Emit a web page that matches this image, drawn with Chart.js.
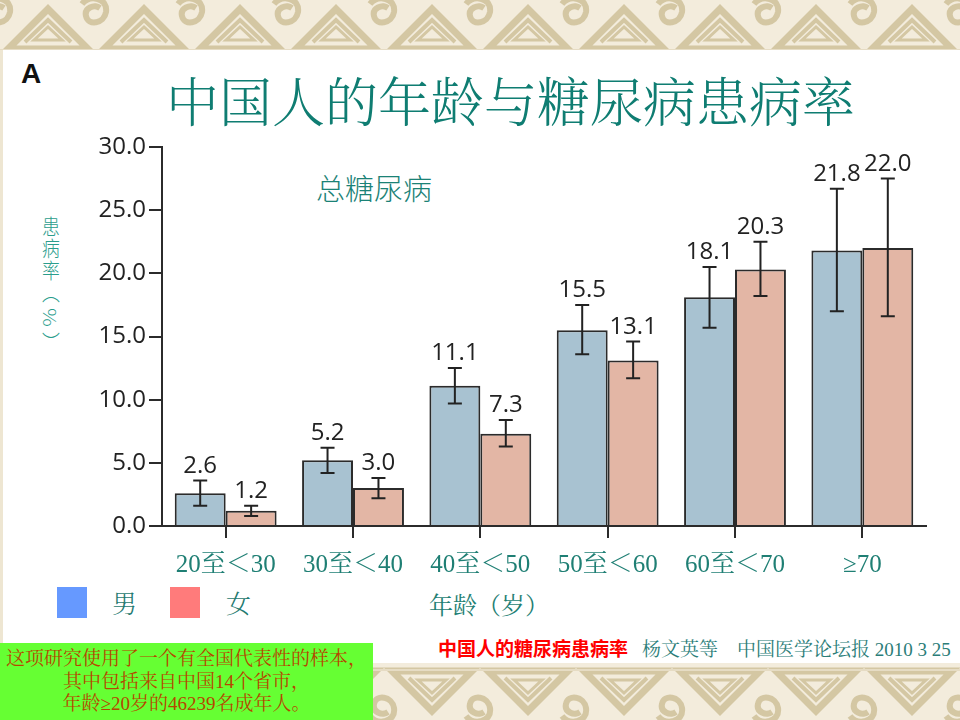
<!DOCTYPE html>
<html>
<head>
<meta charset="utf-8">
<script src="https://cdn.jsdelivr.net/npm/chart.js@4.4.1/dist/chart.umd.min.js"></script>
<style>
  html, body { margin: 0; padding: 0; }
  body { width: 960px; height: 720px; position: relative; overflow: hidden; background: #fff; }
  .band { position: absolute; left: 0; width: 960px; background-repeat: repeat-x; }
  #topBand { top: 0; height: 50px; }
  #bottomBand { top: 663px; height: 57px; }
  #leftStrip { position: absolute; left: 0; top: 50px; width: 3px; height: 613px; background: #eee6d2; }
  #chart { position: absolute; left: 0; top: 0; }
  .txt { position: absolute; white-space: nowrap; }
  .serif { font-family: "Liberation Serif", "Noto Serif CJK SC", "Noto Sans CJK SC", serif; }
  .cjk { font-family: "Noto Serif CJK SC", "Noto Sans CJK SC", sans-serif; }
  #letterA { left: 21px; top: 58px; font: bold 28px "Liberation Sans", Arial, sans-serif; color: #111; }
  #title { left: 166px; top: 73px; font-size: 53px; line-height: 53px; font-weight: 300; color: #0f7d72; }
  #subTitle { left: 316px; top: 171px; font-size: 29px; line-height: 32px; font-weight: 300; color: #1b8276; }
  #yLabel { left: 40px; top: 216px; writing-mode: vertical-rl; font-size: 21px; line-height: 21px; color: #2a9d8c;
            font-family: "Noto Sans CJK SC", sans-serif; font-weight: 300; letter-spacing: 1px;
            transform: scaleX(0.85); transform-origin: center top; }
  #yLabel span { font-size: 21px; letter-spacing: 5px; }
  .swatch { position: absolute; top: 587px; width: 30px; height: 31px; }
  .legendTxt { top: 588px; font-size: 25px; line-height: 28px; color: #1f7a70; font-weight: 300; }
  #xTitle { left: 429px; top: 592px; font-size: 24px; line-height: 28px; color: #1f7f74; }
  #source { left: 438px; top: 637px; font-size: 19px; line-height: 22px; color: #2b7d78; }
  #source b { color: #ff0000; font-family: "Noto Sans CJK SC", sans-serif; font-weight: bold; margin-right: 14px; }
  #note { position: absolute; left: 0; top: 643px; width: 373px; height: 77px; background: #66ff33;
          color: #b54700; font-size: 19px; line-height: 22.5px; text-align: center; padding-top: 5px; box-sizing: border-box; }
</style>
</head>
<body>
<div id="topBand" class="band"></div>
<div id="bottomBand" class="band"></div>
<div id="leftStrip"></div>

<div id="letterA" class="txt">A</div>
<div id="title" class="txt cjk">中国人的年龄与糖尿病患病率</div>
<div id="subTitle" class="txt" style="font-family:'Noto Sans CJK SC',sans-serif;">总糖尿病</div>
<div id="yLabel" class="txt">患病率<span>（%）</span></div>

<div class="swatch" style="left:57px;background:#6699ff;"></div>
<div class="txt legendTxt cjk" style="left:112px;">男</div>
<div class="swatch" style="left:170px;background:#ff7b7b;"></div>
<div class="txt legendTxt cjk" style="left:226px;">女</div>
<div id="xTitle" class="txt serif">年龄（岁）</div>

<div id="source" class="txt serif"><b>中国人的糖尿病患病率</b>杨文英等&nbsp;&nbsp;&nbsp;&nbsp;中国医学论坛报&nbsp;2010 3 25</div>
<div id="note" class="serif">这项研究使用了一个有全国代表性的样本，<br>其中包括来自中国14个省市，<br>年龄≥20岁的46239名成年人。</div>

<canvas id="chart" width="960" height="720"></canvas>

<script>
// 年龄组与患病率（%）
const ageGroups = ["20至＜30", "30至＜40", "40至＜50", "50至＜60", "60至＜70", "≥70"];
const maleRates = [2.6, 5.2, 11.1, 15.5, 18.1, 21.8];
const femaleRates = [1.2, 3.0, 7.3, 13.1, 20.3, 22.0];
// 95% 置信区间
const maleLow = [1.6, 4.2, 9.7, 13.6, 15.7, 17.0];
const maleHigh = [3.6, 6.2, 12.5, 17.5, 20.5, 26.7];
const femaleLow = [0.8, 2.2, 6.3, 11.7, 18.2, 16.6];
const femaleHigh = [1.6, 3.8, 8.4, 14.6, 22.5, 27.5];
const yTicks = [0, 5, 10, 15, 20, 25, 30];

// 边框花纹
function bandSvg(flip) {
  const g =
    "<rect width='96' height='60' fill='#f3ecdc'/>" +
    "<g fill='none' stroke='#d4c7a3' stroke-linejoin='miter'>" +
    "<path d='M8 49 L48 9 L88 49 Z' stroke-width='7'/>" +
    "<path d='M25 42 L48 20 L71 42' stroke-width='4'/>" +
    "<path d='M34 40 L48 27 L62 40 Z' stroke-width='3'/>" +
    "<path d='M-14 4 C-6 -6 12 -2 10 12 C8 24 -8 26 -10 16 C-12 8 -2 4 4 8' stroke-width='6'/>" +
    "<path d='M82 4 C90 -6 108 -2 106 12 C104 24 88 26 86 16 C84 8 94 4 100 8' stroke-width='6'/>" +
    "</g>" +
    "<rect y='49' width='96' height='2' fill='#e6dcc4'/>";
  const body = flip ? "<g transform='translate(0 57) scale(1 -1)'>" + g + "</g>" : g;
  const svg = "<svg xmlns='http://www.w3.org/2000/svg' width='96' height='" + (flip ? 57 : 50) + "'>" + body + "</svg>";
  return 'url("data:image/svg+xml,' + encodeURIComponent(svg) + '")';
}
document.getElementById("topBand").style.backgroundImage = bandSvg(false);
document.getElementById("bottomBand").style.backgroundImage = bandSvg(true);

const axisColor = "#2b2b2b";

// 误差线和数值标签
const errorBarPlugin = {
  id: "errorBars",
  afterDatasetsDraw(chart) {
    const ctx = chart.ctx;
    const yScale = chart.scales.y;
    const ranges = [[maleLow, maleHigh], [femaleLow, femaleHigh]];
    ctx.save();
    ctx.strokeStyle = "#222";
    ctx.lineWidth = 2;
    ctx.fillStyle = "#222";
    ctx.font = "24px 'Open Sans', sans-serif";
    ctx.textAlign = "center";
    ctx.textBaseline = "alphabetic";
    chart.data.datasets.forEach(function (ds, i) {
      const meta = chart.getDatasetMeta(i);
      meta.data.forEach(function (bar, j) {
        const top = yScale.getPixelForValue(ranges[i][1][j]);
        const bottom = yScale.getPixelForValue(ranges[i][0][j]);
        const x = bar.x;
        ctx.beginPath();
        ctx.moveTo(x, top);
        ctx.lineTo(x, bottom);
        ctx.moveTo(x - 7, top);
        ctx.lineTo(x + 7, top);
        ctx.moveTo(x - 7, bottom);
        ctx.lineTo(x + 7, bottom);
        ctx.stroke();
        ctx.fillText(ds.data[j].toFixed(1), x, top - 8);
      });
    });
    ctx.restore();
  },
};

new Chart(document.getElementById("chart").getContext("2d"), {
  type: "bar",
  data: {
    labels: ageGroups,
    datasets: [
      {
        label: "男",
        data: maleRates,
        backgroundColor: "#a8c2d1",
        borderColor: axisColor,
        borderWidth: 2,
        barPercentage: 1.0,
        categoryPercentage: 0.8,
      },
      {
        label: "女",
        data: femaleRates,
        backgroundColor: "#e3b6a5",
        borderColor: axisColor,
        borderWidth: 2,
        barPercentage: 1.0,
        categoryPercentage: 0.8,
      },
    ],
  },
  options: {
    responsive: false,
    animation: false,
    devicePixelRatio: 1,
    layout: { padding: { top: 147, right: 34, left: 0, bottom: 0 } },
    plugins: {
      legend: { display: false },
      tooltip: { enabled: false },
    },
    scales: {
      x: {
        offset: true,
        grid: {
          display: true,
          drawOnChartArea: false,
          drawTicks: true,
          tickLength: 12,
          offset: false,
          color: axisColor,
          lineWidth: 2,
        },
        border: { display: true, color: axisColor, width: 2 },
        ticks: {
          color: "#1f7f74",
          font: { family: "'Liberation Serif', 'Noto Serif CJK SC', 'Noto Sans CJK SC', serif", size: 25 },
          padding: 12,
          maxRotation: 0,
          autoSkip: false,
        },
        afterFit: function (scale) {
          scale.height = 194;
        },
      },
      y: {
        min: 0,
        max: 30,
        afterBuildTicks: function (scale) {
          scale.ticks = yTicks.map(function (v) { return { value: v }; });
        },
        grid: {
          display: true,
          drawOnChartArea: false,
          drawTicks: true,
          tickLength: 13,
          color: axisColor,
          lineWidth: 2,
        },
        border: { display: true, color: axisColor, width: 2 },
        ticks: {
          color: "#222",
          font: { family: "'Open Sans', sans-serif", size: 24 },
          padding: 3,
          callback: function (v) { return Number(v).toFixed(1); },
        },
        afterFit: function (scale) {
          scale.width = 162;
        },
      },
    },
  },
  plugins: [errorBarPlugin],
});
</script>
</body>
</html>
